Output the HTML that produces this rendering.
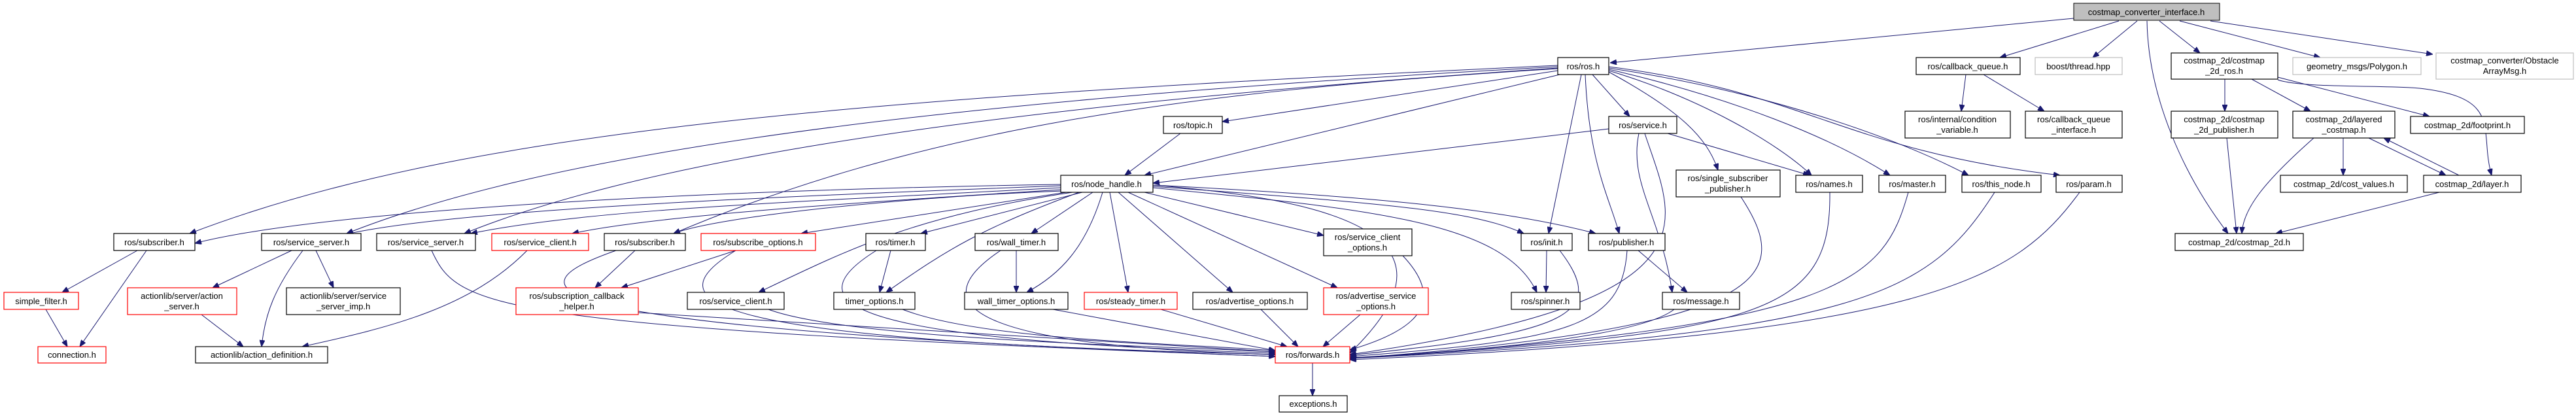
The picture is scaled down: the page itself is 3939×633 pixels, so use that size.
<!DOCTYPE html>
<html><head><meta charset="utf-8"><style>
html,body{margin:0;padding:0;background:#fff;}
svg{display:block;}
text{font-family:"Liberation Sans",sans-serif;font-size:13px;fill:#000;text-anchor:middle;}
.n{fill:#fff;stroke:#000;stroke-width:1.2;}
.r{fill:#fff;stroke:#ff0000;stroke-width:1.2;}
.g{fill:#fff;stroke:#bfbfbf;stroke-width:1.2;}
.e{fill:none;stroke:#191970;stroke-width:1;marker-end:url(#a);}
</style></head><body>
<svg width="3939" height="633" viewBox="0 0 3939 633" xmlns="http://www.w3.org/2000/svg">
<defs><marker id="a" markerWidth="10" markerHeight="8" refX="10" refY="4" orient="auto" markerUnits="userSpaceOnUse"><path d="M0,0 L10,4 L0,8 z" fill="#191970" stroke="#191970"/></marker></defs>
<g>
<path class="e" d="M3171,28 L2462,96"/>
<path class="e" d="M3240,32 L3058,88"/>
<path class="e" d="M3268,32 L3200,88"/>
<path class="e" d="M3283,32 C3285,150 3340,270 3407,357"/>
<path class="e" d="M3302,32 L3364,81"/>
<path class="e" d="M3333,32 L3548,88"/>
<path class="e" d="M3380,32 L3720,83"/>
<path class="e" d="M2382,100 C1300,150 700,200 290,357"/>
<path class="e" d="M2382,102 C1300,160 800,250 530,357"/>
<path class="e" d="M2382,104 C1400,170 950,260 710,357"/>
<path class="e" d="M2382,105 C1800,140 1400,200 1030,357"/>
<path class="e" d="M2382,108 L1869,186"/>
<path class="e" d="M2385,114 L1750,268"/>
<path class="e" d="M2435,114 L2492,178"/>
<path class="e" d="M2418,114 L2368,357"/>
<path class="e" d="M2424,114 C2430,250 2460,300 2476,357"/>
<path class="e" d="M2460,110 C2570,170 2610,210 2627,260"/>
<path class="e" d="M2460,108 C2600,150 2720,220 2770,268"/>
<path class="e" d="M2460,106 C2650,150 2800,210 2890,268"/>
<path class="e" d="M2460,104 C2700,140 2900,210 3010,268"/>
<path class="e" d="M2460,102 C2760,140 2820,230 3150,268"/>
<path class="e" d="M1805,204 L1720,268"/>
<path class="e" d="M2460,197 L1763,280"/>
<path class="e" d="M2550,204 L2767,268"/>
<path class="e" d="M2506,204 C2490,280 2540,330 2557,447"/>
<path class="e" d="M2515,204 C2560,340 2640,460 2064,542"/>
<path class="e" d="M1622,282 C1100,290 500,320 298,372"/>
<path class="e" d="M1622,284 C1200,300 700,320 530,358"/>
<path class="e" d="M1622,287 C1200,310 900,320 720,357"/>
<path class="e" d="M1622,290 C1300,310 1000,330 875,357"/>
<path class="e" d="M1625,292 C1400,300 1100,330 1030,357"/>
<path class="e" d="M1630,294 L1225,357"/>
<path class="e" d="M1640,294 C1400,330 1300,380 1160,447"/>
<path class="e" d="M1650,294 C1500,350 1450,380 1355,447"/>
<path class="e" d="M1655,294 L1408,357"/>
<path class="e" d="M1671,294 L1577,357"/>
<path class="e" d="M1686,294 C1660,380 1620,420 1570,447"/>
<path class="e" d="M1697,294 L1725,447"/>
<path class="e" d="M1710,294 L1885,447"/>
<path class="e" d="M1725,294 L2045,440"/>
<path class="e" d="M1750,294 L2024,360"/>
<path class="e" d="M1763,283 C2100,310 2230,380 2064,540"/>
<path class="e" d="M1763,285 C2100,310 2250,320 2330,357"/>
<path class="e" d="M1763,287 C2100,320 2300,340 2350,447"/>
<path class="e" d="M1763,283 C2100,300 2300,320 2440,357"/>
<path class="e" d="M210,383 L95,447"/>
<path class="e" d="M224,383 L122,530"/>
<path class="e" d="M70,473 L103,530"/>
<path class="e" d="M446,383 L325,440"/>
<path class="e" d="M463,383 C420,440 405,480 400,530"/>
<path class="e" d="M483,383 L510,440"/>
<path class="e" d="M308,481 L372,530"/>
<path class="e" d="M806,383 C720,470 600,500 462,530"/>
<path class="e" d="M660,383 C700,470 740,500 1950,545"/>
<path class="e" d="M971,383 L910,440"/>
<path class="e" d="M942,383 C780,440 760,500 1950,545"/>
<path class="e" d="M1125,383 L950,440"/>
<path class="e" d="M1125,383 C1000,460 1050,520 1950,542"/>
<path class="e" d="M976,478 L1950,538"/>
<path class="e" d="M1175,473 C1300,520 1800,530 1950,538"/>
<path class="e" d="M1362,383 L1345,447"/>
<path class="e" d="M1340,383 C1200,470 1320,520 1950,540"/>
<path class="e" d="M1380,473 C1500,520 1800,525 1950,536"/>
<path class="e" d="M1554,383 L1554,447"/>
<path class="e" d="M1530,383 C1400,470 1500,530 1950,542"/>
<path class="e" d="M1610,473 L1950,536"/>
<path class="e" d="M1775,473 L1968,530"/>
<path class="e" d="M1928,473 L1985,530"/>
<path class="e" d="M2080,481 L2023,530"/>
<path class="e" d="M2145,391 C2220,470 2150,510 2064,535"/>
<path class="e" d="M2365,383 L2364,447"/>
<path class="e" d="M2385,383 C2460,480 2400,510 2064,543"/>
<path class="e" d="M2505,383 L2580,447"/>
<path class="e" d="M2488,383 C2480,500 2400,520 2064,545"/>
<path class="e" d="M2560,473 C2500,520 2200,540 2064,547"/>
<path class="e" d="M2662,301 C2740,420 2720,500 2064,548"/>
<path class="e" d="M2798,294 C2800,480 2700,510 2064,548"/>
<path class="e" d="M2918,294 C2880,430 2820,500 2064,548"/>
<path class="e" d="M3050,294 C2950,450 2850,510 2064,548"/>
<path class="e" d="M3180,294 C3080,430 2950,510 2064,550"/>
<path class="e" d="M2007,555 L2007,605"/>
<path class="e" d="M3006,114 L2999,170"/>
<path class="e" d="M3033,114 L3126,170"/>
<path class="e" d="M3402,121 L3402,170"/>
<path class="e" d="M3443,121 L3533,170"/>
<path class="e" d="M3483,118 L3715,178"/>
<path class="e" d="M3483,122 C3520,135 3650,130 3700,135 C3830,150 3790,200 3810,268"/>
<path class="e" d="M3405,211 L3420,357"/>
<path class="e" d="M3538,211 C3460,280 3430,320 3428,357"/>
<path class="e" d="M3583,211 L3583,268"/>
<path class="e" d="M3622,211 L3740,268"/>
<path class="e" d="M3760,268 L3645,211"/>
<path class="e" d="M3730,294 L3480,357"/>
</g>
<g>
<rect x="3171" y="5" width="223" height="26" fill="#bfbfbf" stroke="#000"/><text x="3282" y="23">costmap_converter_interface.h</text>
<rect class="n" x="2382" y="88" width="78" height="26"/><text x="2421" y="106">ros/ros.h</text>
<rect class="n" x="2930" y="88" width="159" height="26"/><text x="3009" y="106">ros/callback_queue.h</text>
<rect class="g" x="3112" y="88" width="133" height="26"/><text x="3178" y="106">boost/thread.hpp</text>
<rect class="n" x="3320" y="81" width="163" height="40"/><text x="3401" y="97">costmap_2d/costmap</text><text x="3401" y="113">_2d_ros.h</text>
<rect class="g" x="3506" y="88" width="196" height="26"/><text x="3604" y="106">geometry_msgs/Polygon.h</text>
<rect class="g" x="3725" y="81" width="210" height="40"/><text x="3830" y="97">costmap_converter/Obstacle</text><text x="3830" y="113">ArrayMsg.h</text>
<rect class="n" x="1779" y="178" width="90" height="26"/><text x="1824" y="196">ros/topic.h</text>
<rect class="n" x="2460" y="178" width="104" height="26"/><text x="2512" y="196">ros/service.h</text>
<rect class="n" x="2913" y="170" width="161" height="41"/><text x="2993" y="187">ros/internal/condition</text><text x="2993" y="203">_variable.h</text>
<rect class="n" x="3097" y="170" width="148" height="41"/><text x="3171" y="187">ros/callback_queue</text><text x="3171" y="203">_interface.h</text>
<rect class="n" x="3320" y="170" width="163" height="41"/><text x="3401" y="187">costmap_2d/costmap</text><text x="3401" y="203">_2d_publisher.h</text>
<rect class="n" x="3506" y="170" width="156" height="41"/><text x="3584" y="187">costmap_2d/layered</text><text x="3584" y="203">_costmap.h</text>
<rect class="n" x="3686" y="178" width="174" height="26"/><text x="3773" y="196">costmap_2d/footprint.h</text>
<rect class="n" x="1622" y="268" width="141" height="26"/><text x="1692" y="286">ros/node_handle.h</text>
<rect class="n" x="2563" y="260" width="159" height="41"/><text x="2642" y="277">ros/single_subscriber</text><text x="2642" y="293">_publisher.h</text>
<rect class="n" x="2746" y="268" width="102" height="26"/><text x="2797" y="286">ros/names.h</text>
<rect class="n" x="2873" y="268" width="102" height="26"/><text x="2924" y="286">ros/master.h</text>
<rect class="n" x="3000" y="268" width="121" height="26"/><text x="3060" y="286">ros/this_node.h</text>
<rect class="n" x="3144" y="268" width="101" height="26"/><text x="3194" y="286">ros/param.h</text>
<rect class="n" x="3487" y="268" width="194" height="26"/><text x="3584" y="286">costmap_2d/cost_values.h</text>
<rect class="n" x="3706" y="268" width="149" height="26"/><text x="3780" y="286">costmap_2d/layer.h</text>
<rect class="n" x="174" y="357" width="124" height="26"/><text x="236" y="375">ros/subscriber.h</text>
<rect class="n" x="400" y="357" width="152" height="26"/><text x="476" y="375">ros/service_server.h</text>
<rect class="n" x="576" y="357" width="151" height="26"/><text x="651" y="375">ros/service_server.h</text>
<rect class="r" x="752" y="357" width="148" height="26"/><text x="826" y="375">ros/service_client.h</text>
<rect class="n" x="924" y="357" width="124" height="26"/><text x="986" y="375">ros/subscriber.h</text>
<rect class="r" x="1072" y="357" width="175" height="26"/><text x="1159" y="375">ros/subscribe_options.h</text>
<rect class="n" x="1324" y="357" width="91" height="26"/><text x="1369" y="375">ros/timer.h</text>
<rect class="n" x="1491" y="357" width="127" height="26"/><text x="1554" y="375">ros/wall_timer.h</text>
<rect class="n" x="2024" y="350" width="135" height="41"/><text x="2091" y="367">ros/service_client</text><text x="2091" y="383">_options.h</text>
<rect class="n" x="2326" y="357" width="78" height="26"/><text x="2365" y="375">ros/init.h</text>
<rect class="n" x="2429" y="357" width="117" height="26"/><text x="2487" y="375">ros/publisher.h</text>
<rect class="n" x="3326" y="357" width="196" height="26"/><text x="3424" y="375">costmap_2d/costmap_2d.h</text>
<rect class="r" x="6" y="447" width="114" height="26"/><text x="63" y="465">simple_filter.h</text>
<rect class="r" x="195" y="440" width="167" height="41"/><text x="278" y="457">actionlib/server/action</text><text x="278" y="473">_server.h</text>
<rect class="n" x="438" y="440" width="174" height="41"/><text x="525" y="457">actionlib/server/service</text><text x="525" y="473">_server_imp.h</text>
<rect class="r" x="789" y="440" width="187" height="41"/><text x="882" y="457">ros/subscription_callback</text><text x="882" y="473">_helper.h</text>
<rect class="n" x="1051" y="447" width="148" height="26"/><text x="1125" y="465">ros/service_client.h</text>
<rect class="n" x="1275" y="447" width="124" height="26"/><text x="1337" y="465">timer_options.h</text>
<rect class="n" x="1475" y="447" width="158" height="26"/><text x="1554" y="465">wall_timer_options.h</text>
<rect class="r" x="1658" y="447" width="142" height="26"/><text x="1729" y="465">ros/steady_timer.h</text>
<rect class="n" x="1824" y="447" width="175" height="26"/><text x="1911" y="465">ros/advertise_options.h</text>
<rect class="r" x="2024" y="440" width="160" height="41"/><text x="2104" y="457">ros/advertise_service</text><text x="2104" y="473">_options.h</text>
<rect class="n" x="2311" y="447" width="105" height="26"/><text x="2363" y="465">ros/spinner.h</text>
<rect class="n" x="2542" y="447" width="118" height="26"/><text x="2601" y="465">ros/message.h</text>
<rect class="r" x="58" y="530" width="104" height="25"/><text x="110" y="547">connection.h</text>
<rect class="n" x="299" y="530" width="202" height="25"/><text x="400" y="547">actionlib/action_definition.h</text>
<rect class="r" x="1950" y="530" width="114" height="25"/><text x="2007" y="547">ros/forwards.h</text>
<rect class="n" x="1956" y="605" width="104" height="25"/><text x="2008" y="622">exceptions.h</text>
</g>
</svg>
</body></html>
